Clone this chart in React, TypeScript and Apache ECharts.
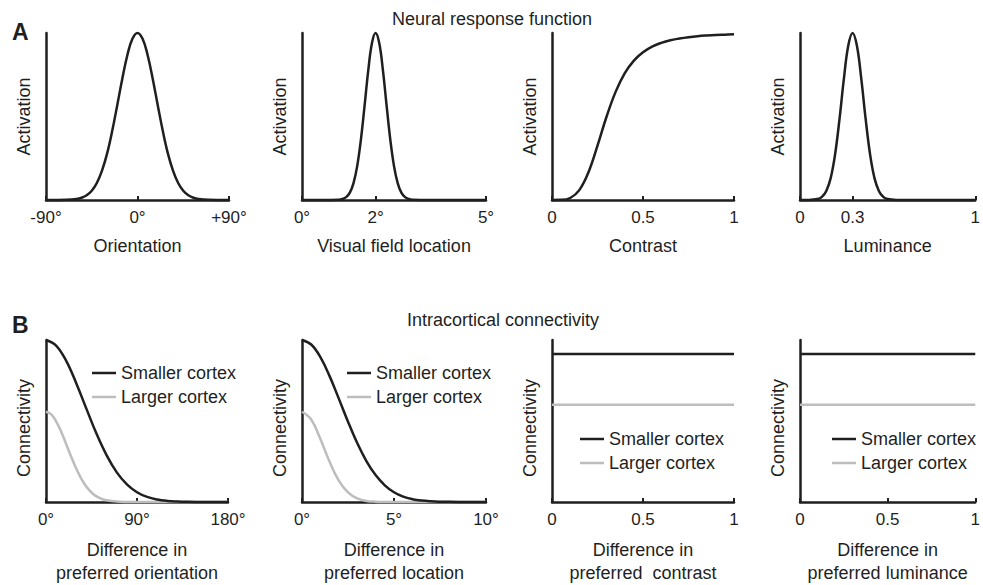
import React, { useEffect, useRef } from "react";
import * as echarts from "echarts";

const FONT = "'Liberation Sans', Arial, Helvetica, sans-serif";
const INK = "#1f1f1f";
const GREY = "#bdbdbd";

// ---- Panel A: neural response functions ----
const orientX = [-90, -80, -70, -60, -55, -50, -45, -40, -35, -30, -25, -20, -15, -10, -5, 0, 5, 10, 15, 20, 25, 30, 35, 40, 45, 50, 55, 60, 70, 80, 90];
const orientY = [0, 0.0001, 0.0009, 0.0058, 0.0133, 0.0281, 0.0554, 0.102, 0.174, 0.276, 0.41, 0.565, 0.725, 0.867, 0.965, 1, 0.965, 0.867, 0.725, 0.565, 0.41, 0.276, 0.174, 0.102, 0.0554, 0.0281, 0.0133, 0.0058, 0.0009, 0.0001, 0];

const locX = [0, 0.5, 1.0, 1.1, 1.2, 1.3, 1.4, 1.5, 1.6, 1.7, 1.8, 1.9, 2.0, 2.1, 2.2, 2.3, 2.4, 2.5, 2.6, 2.7, 2.8, 2.9, 3.0, 3.5, 4, 4.5, 5];
const locY = [0, 0, 0.0017, 0.0057, 0.017, 0.044, 0.101, 0.203, 0.36, 0.563, 0.775, 0.938, 1, 0.938, 0.775, 0.563, 0.36, 0.203, 0.101, 0.044, 0.017, 0.0057, 0.0017, 0, 0, 0, 0];

const contrastX = [0, 0.05, 0.1, 0.15, 0.2, 0.25, 0.3, 0.35, 0.4, 0.45, 0.5, 0.55, 0.6, 0.65, 0.7, 0.75, 0.8, 0.85, 0.9, 0.95, 1];
const contrastY = [0, 0.0008, 0.012, 0.059, 0.165, 0.325, 0.5, 0.649, 0.76, 0.835, 0.885, 0.919, 0.941, 0.957, 0.967, 0.975, 0.981, 0.985, 0.988, 0.99, 0.992];

const lumX = [0, 0.05, 0.1, 0.125, 0.15, 0.175, 0.2, 0.225, 0.25, 0.275, 0.3, 0.325, 0.35, 0.375, 0.4, 0.425, 0.45, 0.475, 0.5, 0.55, 0.6, 0.8, 1];
const lumY = [0, 0.0003, 0.0055, 0.0186, 0.054, 0.131, 0.272, 0.481, 0.722, 0.922, 1, 0.922, 0.722, 0.481, 0.272, 0.131, 0.054, 0.0186, 0.0055, 0.0003, 0, 0, 0];

// ---- Panel B: intracortical connectivity ----
const oriDiffX = [0, 10, 20, 30, 40, 50, 60, 70, 80, 90, 100, 110, 120, 130, 140, 150, 160, 170, 180];
const oriSmallY = [1, 0.966, 0.871, 0.732, 0.575, 0.421, 0.288, 0.183, 0.109, 0.0605, 0.0313, 0.0152, 0.0068, 0.0029, 0.0011, 0.0004, 0.0001, 0, 0];
const oriLargeX = [0, 5, 10, 15, 20, 25, 30, 35, 40, 45, 50, 55, 60, 70, 80, 90, 180];
const oriLargeY = [0.557, 0.542, 0.498, 0.434, 0.357, 0.278, 0.205, 0.143, 0.094, 0.0587, 0.0347, 0.0193, 0.0102, 0.0024, 0.0004, 0, 0];

const locDiffX = [0, 0.5, 1, 1.5, 2, 2.5, 3, 3.5, 4, 4.5, 5, 5.5, 6, 6.5, 7, 7.5, 8, 9, 10];
const locSmallY = [1, 0.972, 0.894, 0.777, 0.638, 0.496, 0.364, 0.253, 0.166, 0.103, 0.06, 0.033, 0.0175, 0.0087, 0.0041, 0.0018, 0.0008, 0, 0];
const locLargeX = [0, 0.5, 1, 1.5, 2, 2.5, 3, 3.5, 4, 4.5, 5, 10];
const locLargeY = [0.557, 0.509, 0.389, 0.248, 0.132, 0.059, 0.022, 0.0068, 0.0018, 0.0004, 0, 0];

const flatX = [0, 1];
const flatSmallY = [0.914, 0.914];
const flatLargeY = [0.6, 0.6];

// ---- Tick labels ----
const ticksA1 = [-90, 0, 90];
const labelsA1 = ["-90°", "0°", "+90°"];
const ticksA2 = [0, 2, 5];
const labelsA2 = ["0°", "2°", "5°"];
const ticksA3 = [0, 0.5, 1];
const labelsA3 = ["0", "0.5", "1"];
const ticksA4 = [0, 0.3, 1];
const labelsA4 = ["0", "0.3", "1"];
const ticksB1 = [0, 90, 180];
const labelsB1 = ["0°", "90°", "180°"];
const ticksB2 = [0, 5, 10];
const labelsB2 = ["0°", "5°", "10°"];
const ticksB3 = [0, 0.5, 1];
const labelsB3 = ["0", "0.5", "1"];

const SMALL = "Smaller cortex";
const LARGE = "Larger cortex";

const zip = (xs: number[], ys: number[]) => xs.map((x, i) => [x, ys[i]]);

const GRIDS = [
  { left: 46, top: 33, width: 183, height: 167 },
  { left: 302, top: 33, width: 184, height: 167 },
  { left: 552, top: 33, width: 182, height: 167 },
  { left: 800, top: 33, width: 182, height: 167 },
  { left: 46, top: 340, width: 182, height: 163 },
  { left: 302, top: 340, width: 184, height: 163 },
  { left: 552, top: 340, width: 182, height: 163 },
  { left: 800, top: 340, width: 182, height: 163 },
];

type Panel = {
  min: number;
  max: number;
  ticks: number[];
  labels: string[];
  xName: string;
  yName: string;
  series: { name: string; data: number[][]; color: string }[];
};

const PANELS: Panel[] = [
  { min: -90, max: 90, ticks: ticksA1, labels: labelsA1, xName: "Orientation", yName: "Activation", series: [{ name: "Orientation tuning", data: zip(orientX, orientY), color: INK }] },
  { min: 0, max: 5, ticks: ticksA2, labels: labelsA2, xName: "Visual field location", yName: "Activation", series: [{ name: "Location tuning", data: zip(locX, locY), color: INK }] },
  { min: 0, max: 1, ticks: ticksA3, labels: labelsA3, xName: "Contrast", yName: "Activation", series: [{ name: "Contrast response", data: zip(contrastX, contrastY), color: INK }] },
  { min: 0, max: 1, ticks: ticksA4, labels: labelsA4, xName: "Luminance", yName: "Activation", series: [{ name: "Luminance tuning", data: zip(lumX, lumY), color: INK }] },
  { min: 0, max: 180, ticks: ticksB1, labels: labelsB1, xName: "Difference in\npreferred orientation", yName: "Connectivity", series: [{ name: SMALL, data: zip(oriDiffX, oriSmallY), color: INK }, { name: LARGE, data: zip(oriLargeX, oriLargeY), color: GREY }] },
  { min: 0, max: 10, ticks: ticksB2, labels: labelsB2, xName: "Difference in\npreferred location", yName: "Connectivity", series: [{ name: SMALL, data: zip(locDiffX, locSmallY), color: INK }, { name: LARGE, data: zip(locLargeX, locLargeY), color: GREY }] },
  { min: 0, max: 1, ticks: ticksB3, labels: labelsB3, xName: "Difference in\npreferred  contrast", yName: "Connectivity", series: [{ name: SMALL, data: zip(flatX, flatSmallY), color: INK }, { name: LARGE, data: zip(flatX, flatLargeY), color: GREY }] },
  { min: 0, max: 1, ticks: ticksB3, labels: labelsB3, xName: "Difference in\npreferred luminance", yName: "Connectivity", series: [{ name: SMALL, data: zip(flatX, flatSmallY), color: INK }, { name: LARGE, data: zip(flatX, flatLargeY), color: GREY }] },
];

const LEGENDS = [
  { left: 92, top: 364 },
  { left: 347, top: 364 },
  { left: 580, top: 430 },
  { left: 832, top: 430 },
];

function buildOption() {
  const xAxis = PANELS.map((p, i) => ({
    gridIndex: i,
    type: "value",
    min: p.min,
    max: p.max,
    name: p.xName,
    nameLocation: "middle",
    nameGap: i < 4 ? 34 : 36,
    nameTextStyle: { fontSize: 18, color: INK, fontFamily: FONT, lineHeight: 23 },
    axisLine: { show: true, onZero: false, lineStyle: { color: INK, width: 2.5 } },
    axisTick: { show: true, inside: true, length: 4, customValues: p.ticks, lineStyle: { color: INK, width: 2 } },
    axisLabel: {
      show: true,
      customValues: p.ticks,
      fontSize: 17,
      color: INK,
      fontFamily: FONT,
      margin: 9,
      formatter: (v: number) => {
        const k = p.ticks.findIndex((t) => Math.abs(t - v) < 1e-9);
        return k >= 0 ? p.labels[k] : "";
      },
    },
    splitLine: { show: false },
  }));
  const yAxis = PANELS.map((p, i) => ({
    gridIndex: i,
    type: "value",
    min: 0,
    max: 1,
    name: p.yName,
    nameLocation: "middle",
    nameGap: 13,
    nameRotate: 90,
    nameTextStyle: { fontSize: 18, color: INK, fontFamily: FONT, padding: i < 4 ? 0 : [0, 14, 0, 0] },
    axisLine: { show: true, onZero: false, lineStyle: { color: INK, width: 2.5 } },
    axisTick: { show: false },
    axisLabel: { show: false },
    splitLine: { show: false },
  }));
  const series: any[] = [];
  PANELS.forEach((p, i) => {
    p.series.forEach((s) => {
      series.push({
        type: "line",
        name: s.name,
        xAxisIndex: i,
        yAxisIndex: i,
        data: s.data,
        showSymbol: false,
        smooth: 0.4,
        clip: false,
        silent: true,
        lineStyle: { color: s.color, width: 2.5 },
        itemStyle: { color: s.color },
        z: s.color === INK ? 3 : 2,
      });
    });
  });
  const legend = LEGENDS.map((l) => ({
    left: l.left,
    top: l.top,
    orient: "vertical",
    data: [SMALL, LARGE],
    icon: "rect",
    itemWidth: 24,
    itemHeight: 2.5,
    itemGap: 6,
    selectedMode: false,
    padding: 0,
    textStyle: { fontSize: 18, color: INK, fontFamily: FONT, lineHeight: 18 },
  }));
  const graphic = [
    { type: "text", left: 392, top: 10, style: { text: "Neural response function", fontSize: 18, fill: INK, fontFamily: FONT } },
    { type: "text", left: 407, top: 311, style: { text: "Intracortical connectivity", fontSize: 18, fill: INK, fontFamily: FONT } },
    { type: "text", left: 12, top: 20, style: { text: "A", fontSize: 23, fontWeight: "bold", fill: INK, fontFamily: FONT } },
    { type: "text", left: 12, top: 313, style: { text: "B", fontSize: 23, fontWeight: "bold", fill: INK, fontFamily: FONT } },
  ];
  return {
    animation: false,
    backgroundColor: "#ffffff",
    textStyle: { fontFamily: FONT },
    grid: GRIDS.map((g) => ({ ...g, containLabel: false })),
    xAxis,
    yAxis,
    series,
    legend,
    graphic,
  };
}

export default function App() {
  const ref = useRef<HTMLDivElement>(null);
  useEffect(() => {
    if (!ref.current) return;
    const chart = echarts.init(ref.current, undefined, { renderer: "svg" });
    chart.setOption(buildOption() as any);
    return () => chart.dispose();
  }, []);
  return (
    <div
      ref={ref}
      style={{ position: "fixed", left: 0, top: 0, width: 983, height: 585, background: "#fff" }}
    />
  );
}
